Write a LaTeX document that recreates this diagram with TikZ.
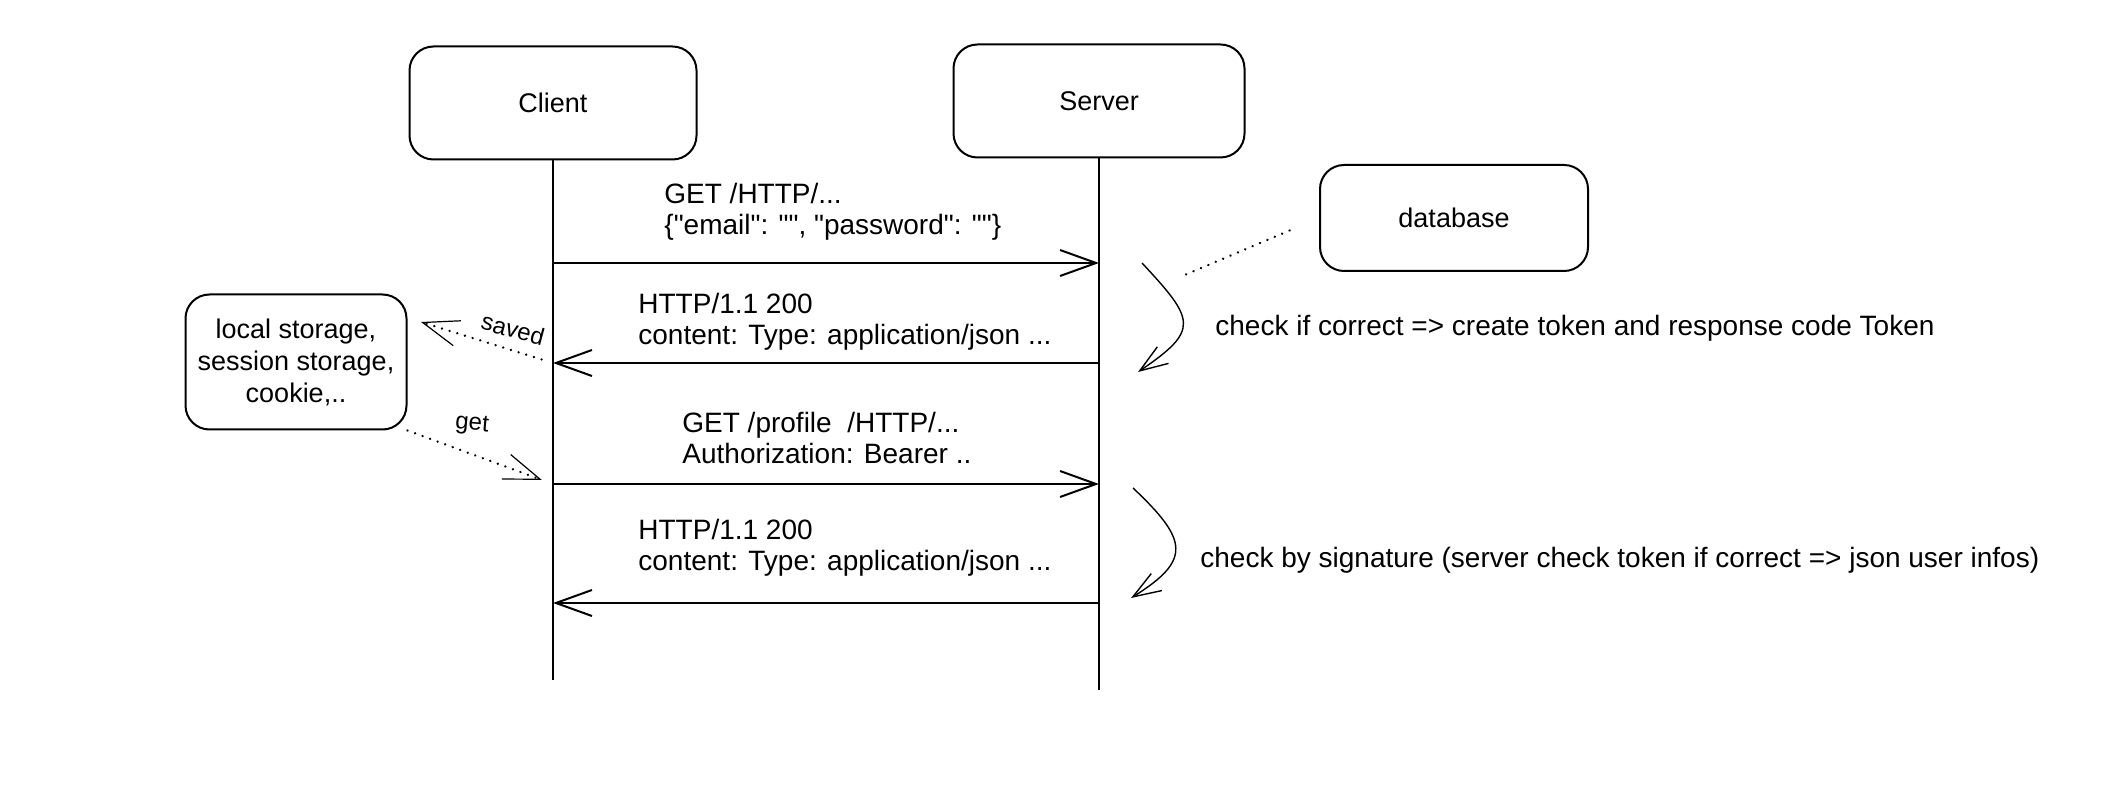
\documentclass[tikz,border=0pt]{standalone}
\usepackage{fontspec}
\setmainfont{Liberation Sans}
\usetikzlibrary{arrows.meta, positioning}

\begin{document}
\begin{tikzpicture}[x=0.5pt, y=-0.5pt,
  box/.style={draw, line width=1pt, rounded corners=12pt, align=center, font=\fontsize{13.5}{16}\selectfont},
  msg/.style={anchor=west, align=left, inner sep=0pt, font=\fontsize{14}{15.5}\selectfont},
  life/.style={line width=1pt},
  call/.style={line width=1.4pt, -{Straight Barb[length=18pt, width=13pt, line width=1pt]}},
  turn/.style={line width=0.7pt, -{Straight Barb[length=14pt, width=10pt, line width=0.7pt]}},
  dots/.style={line width=1.3pt, line cap=round, dash pattern=on 0.01pt off 4pt},
  hint/.style={dots, -{Straight Barb[length=18pt, width=13pt, line width=0.6pt]}},
  tag/.style={font=\fontsize{12}{14}\selectfont}]
  \useasboundingbox (0,0) rectangle (2102,806);

  % Client and server boxes
  \node[box, minimum width=143.5pt, minimum height=56.5pt] (client) at (553,103) {Client};
  \node[box, minimum width=145.5pt, minimum height=56.5pt] (server) at (1099,101) {Server};
  \node[box, minimum width=134pt, minimum height=53pt] (database) at (1454,218) {database};
  \node[box, minimum width=110.5pt, minimum height=67.5pt] (local) at (296,362) {local storage,\\session storage,\\cookie,..};

  % Lifelines
  \coordinate (clientend) at (553,680);
  \coordinate (serverend) at (1099,690);
  \draw[life] (client.south) -- (clientend);
  \draw[life] (server.south) -- (serverend);

  \foreach \y/\n in {263/1, 363/2, 484/3, 603/4} {
    \coordinate (c\n) at (client.south |- 0,\y);
    \coordinate (s\n) at (server.south |- 0,\y);
  }

  % Requests and responses
  \draw[call] (c1) -- (s1);
  \node[msg] (login) at (664,212) {GET /HTTP/...\\\{\textquotedbl email\textquotedbl: \textquotedbl\textquotedbl, \textquotedbl password\textquotedbl: \textquotedbl\textquotedbl\}};
  \draw[call] (s2) -- (c2);
  \node[msg] (token) at (638,322) {HTTP/1.1 200\\content: Type: application/json ...};
  \draw[call] (c3) -- (s3);
  \node[msg] (profile) at (682,438) {GET /profile\ \ /HTTP/...\\Authorization: Bearer ..};
  \draw[call] (s4) -- (c4);
  \node[msg] (infos) at (638,548) {HTTP/1.1 200\\content: Type: application/json ...};

  % Server side checks
  \coordinate (k1a) at (1142,263);
  \coordinate (k1b) at (1138,372);
  \draw[turn] (k1a) .. controls (1195,320) and (1200,330) .. (k1b);
  \node[msg] (check) at (1215,328) {check if correct => create token and response code Token};
  \coordinate (k2a) at (1133,488);
  \coordinate (k2b) at (1131,598);
  \draw[turn] (k2a) .. controls (1188,540) and (1192,560) .. (k2b);
  \node[msg] (verify) at (1200,560) {check by signature (server check token if correct => json user infos)};

  % Dotted hints
  \coordinate (dbtail) at (1180,277);
  \draw[dots, shorten <=16pt] (database.west) -- (dbtail);
  \coordinate (savetip) at (421,322);
  \draw[hint, shorten <=6pt] (c2) -- (savetip);
  \node[tag, rotate=-15] (saved) at (513,329) {saved};
  \draw[hint, shorten >=6pt] (local.south east) -- (c3);
  \node[tag, rotate=-5] (get) at (472,425) {get};
\end{tikzpicture}
\end{document}
